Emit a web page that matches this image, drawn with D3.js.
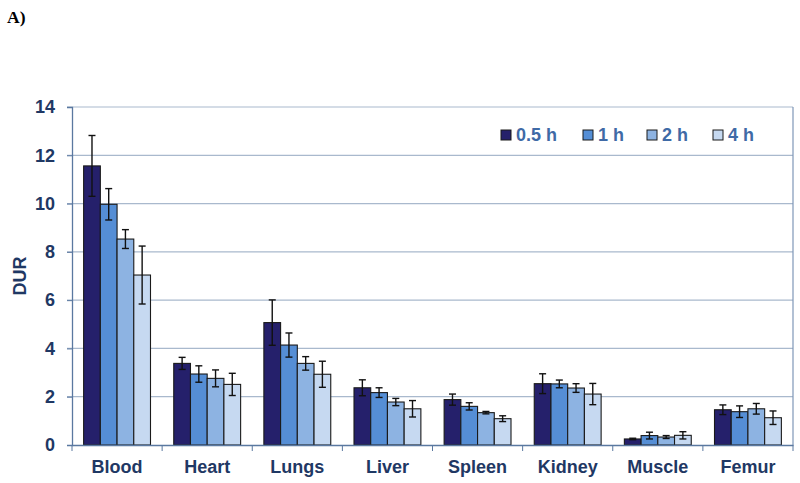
<!DOCTYPE html>
<html><head><meta charset="utf-8">
<script src="https://cdn.jsdelivr.net/npm/d3@7"></script>
<style>body{margin:0;background:#fff}svg{display:block}</style>
</head><body>
<svg id="chart" width="800" height="483"></svg>
<script>
const categories = ["Blood","Heart","Lungs","Liver","Spleen","Kidney","Muscle","Femur"];
const seriesNames = ["0.5 h","1 h","2 h","4 h"];
const values05 = [11.56, 3.38, 5.07, 2.37, 1.88, 2.54, 0.25, 1.46];
const values1  = [9.97, 2.94, 4.14, 2.17, 1.60, 2.53, 0.39, 1.38];
const values2  = [8.53, 2.76, 3.38, 1.78, 1.34, 2.36, 0.33, 1.50];
const values4  = [7.04, 2.51, 2.93, 1.50, 1.09, 2.11, 0.40, 1.13];
const err05 = [1.26, 0.25, 0.94, 0.33, 0.23, 0.41, 0.03, 0.20];
const err1  = [0.65, 0.34, 0.50, 0.20, 0.15, 0.16, 0.14, 0.24];
const err2  = [0.39, 0.35, 0.28, 0.15, 0.05, 0.18, 0.06, 0.22];
const err4  = [1.20, 0.46, 0.54, 0.34, 0.12, 0.44, 0.15, 0.28];
const yTicks = [0, 2, 4, 6, 8, 10, 12, 14];

const colors = ["#25206b", "#558ed5", "#8db3e2", "#c6d9f1"];
const textColor = "#1f3864";
const allValues = [values05, values1, values2, values4];
const allErr = [err05, err1, err2, err4];
const FONT = "Liberation Sans, Arial, sans-serif";

const svg = d3.select("#chart");
const L = 72, R = 793, T = 107, B = 445;

const x0 = d3.scaleBand().domain(categories).range([L, R]).paddingInner(0).paddingOuter(0);
const groupW = x0.bandwidth() * 0.742;
const x1 = d3.scaleBand().domain(seriesNames).range([0, groupW]).padding(0);
const y = d3.scaleLinear().domain([0, 14]).range([B, T]);

// gridlines
svg.append("g").selectAll("line").data(yTicks.filter(t => t > 0)).join("line")
  .attr("x1", L - 5).attr("x2", R).attr("y1", d => y(d)).attr("y2", d => y(d))
  .attr("stroke", "#a9b9cd").attr("stroke-width", 1.2);
// right border
svg.append("line").attr("x1", R).attr("x2", R).attr("y1", T).attr("y2", B)
  .attr("stroke", "#7f97b8").attr("stroke-width", 1.2);

// bars
const groups = svg.append("g").selectAll("g").data(categories).join("g")
  .attr("transform", d => `translate(${x0(d) + (x0.bandwidth() - groupW) / 2},0)`);

seriesNames.forEach((s, si) => {
  groups.append("rect")
    .attr("x", x1(s))
    .attr("width", x1.bandwidth())
    .attr("y", (d, ci) => y(allValues[si][ci]))
    .attr("height", (d, ci) => B - y(allValues[si][ci]))
    .attr("fill", colors[si])
    .attr("stroke", "#1a1a1a").attr("stroke-width", 1.1);
});
seriesNames.forEach((s, si) => {
  const cx = x1(s) + x1.bandwidth() / 2;
  const eb = groups.append("g").attr("stroke", "#111").attr("stroke-width", 1.4);
  eb.append("line").attr("x1", cx).attr("x2", cx)
    .attr("y1", (d, ci) => y(allValues[si][ci] + allErr[si][ci]))
    .attr("y2", (d, ci) => y(allValues[si][ci] - allErr[si][ci]));
  eb.append("line").attr("x1", cx - 3.5).attr("x2", cx + 3.5)
    .attr("y1", (d, ci) => y(allValues[si][ci] + allErr[si][ci]))
    .attr("y2", (d, ci) => y(allValues[si][ci] + allErr[si][ci]));
  eb.append("line").attr("x1", cx - 3.5).attr("x2", cx + 3.5)
    .attr("y1", (d, ci) => y(allValues[si][ci] - allErr[si][ci]))
    .attr("y2", (d, ci) => y(allValues[si][ci] - allErr[si][ci]));
});

// Y axis
const yAxis = svg.append("g").attr("transform", `translate(${L},0)`)
  .call(d3.axisLeft(y).tickValues(yTicks).tickSize(5).tickPadding(12));
yAxis.select(".domain").attr("stroke", "#5a78a0").attr("stroke-width", 1.3);
yAxis.selectAll(".tick line").attr("stroke", "#5a78a0");
yAxis.selectAll("text").attr("font-family", FONT)
  .attr("font-weight", "bold").attr("font-size", 18).attr("fill", textColor);

// X axis
const xAxis = svg.append("g").attr("transform", `translate(0,${B})`)
  .call(d3.axisBottom(x0).tickSize(0).tickPadding(15));
xAxis.select(".domain").attr("stroke", "#5a78a0").attr("stroke-width", 1.3);
xAxis.selectAll("text").attr("font-family", FONT)
  .attr("font-weight", "bold").attr("font-size", 18).attr("fill", textColor);
// category separator ticks
svg.append("g").selectAll("line").data(categories).join("line")
  .attr("x1", d => x0(d)).attr("x2", d => x0(d))
  .attr("y1", B).attr("y2", B + 6).attr("stroke", "#5a78a0");
svg.append("line").attr("x1", R).attr("x2", R).attr("y1", B).attr("y2", B + 6).attr("stroke", "#5a78a0");

// Y label
svg.append("text").attr("transform", `translate(20,${(T + B) / 2}) rotate(-90)`)
  .attr("text-anchor", "middle").attr("dy", "0.36em")
  .attr("font-family", FONT).attr("font-weight", "bold")
  .attr("font-size", 18).attr("fill", textColor).text("DUR");

// panel label
svg.append("text").attr("x", 7).attr("y", 23)
  .attr("font-family", "Liberation Serif, Times New Roman, serif").attr("font-weight", "bold")
  .attr("font-size", 17.5).attr("fill", "#000").text("A)");

// legend
const legendX = [501, 583, 647, 713];
const leg = svg.append("g").selectAll("g").data(seriesNames).join("g")
  .attr("transform", (d, i) => `translate(${legendX[i]},135)`);
leg.append("rect").attr("x", 0).attr("y", -5).attr("width", 10).attr("height", 10)
  .attr("fill", (d, i) => colors[i]).attr("stroke", "#1a1a1a").attr("stroke-width", 1);
leg.append("text").attr("x", 15).attr("dy", "0.36em")
  .attr("font-family", FONT).attr("font-weight", "bold")
  .attr("font-size", 18).attr("fill", "#3f6aa6").text(d => d);
</script>
</body></html>
